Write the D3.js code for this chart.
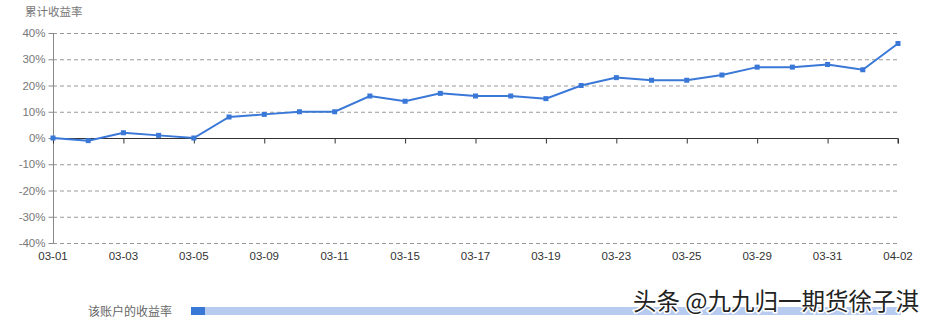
<!DOCTYPE html>
<html><head><meta charset="utf-8">
<script src="https://cdn.jsdelivr.net/npm/d3@7"></script>
<style>body{margin:0;background:#fff}svg{display:block}</style>
</head><body>
<script>
const dates = ["03-01","03-02","03-03","03-04","03-05","03-08","03-09","03-10","03-11","03-12","03-15","03-16","03-17","03-18","03-19","03-22","03-23","03-24","03-25","03-26","03-29","03-30","03-31","04-01","04-02"];
const returns = [0,-1,2,1,0,8,9,10,10,16,14,17,16,16,15,20,23,22,22,24,27,27,28,26,36];
const yTicks = [40,30,20,10,0,-10,-20,-30,-40];
const yTitle = "累计收益率";
const legendLabel = "该账户的收益率";
const watermark = "头条 @九九归一期货徐子淇";

const W = 930, H = 328;
const font = "'Liberation Sans', Arial, 'Noto Sans CJK SC', sans-serif";
const svg = d3.select("body").append("svg").attr("width", W).attr("height", H).style("font-family", font);

const x = d3.scalePoint().domain(dates).range([53, 898]);
const y = d3.scaleLinear().domain([-40, 40]).range([243, 33]);

// grid
svg.append("g").selectAll("line").data(yTicks.filter(d => d !== 0)).join("line")
  .attr("x1", 53).attr("x2", 898).attr("y1", d => y(d) + 0.5).attr("y2", d => y(d) + 0.5)
  .attr("stroke", "#999").attr("stroke-dasharray", "4,3");

// y axis
const ya = svg.append("g").attr("transform", "translate(53.5,0)")
  .call(d3.axisLeft(y).tickValues(yTicks).tickSize(5).tickPadding(3).tickFormat(d => d + "%"));
ya.select(".domain").attr("stroke", "#888").attr("d", `M0,${y(40)}V${y(-40)}`);
ya.selectAll(".tick line").attr("stroke", "#888");
ya.selectAll("text").attr("fill", "#777").style("font-size", "11.5px").style("font-family", font);

// zero axis with ticks
const xTickVals = dates.filter((d, i) => i % 2 === 0);
const xa = svg.append("g").attr("transform", `translate(0,${y(0) + 0.5})`)
  .call(d3.axisBottom(x).tickValues(xTickVals).tickSize(5).tickFormat(""));
xa.select(".domain").attr("stroke", "#333").attr("d", `M53,0H898V5`);
xa.selectAll(".tick line").attr("stroke", "#333");

// x labels
svg.append("g").selectAll("text").data(xTickVals).join("text")
  .attr("x", d => x(d)).attr("y", 260).attr("text-anchor", "middle")
  .attr("fill", "#333").style("font-size", "11.5px").text(d => d);

// title
svg.append("text").attr("x", 25).attr("y", 16).attr("fill", "#777").style("font-size", "11.5px").text(yTitle);

// line
const color = "#3a78d8";
svg.append("path").datum(returns.map((v, i) => [dates[i], v]))
  .attr("fill", "none").attr("stroke", color).attr("stroke-width", 2)
  .attr("d", d3.line().x(d => x(d[0])).y(d => y(d[1])));
svg.append("g").selectAll("rect").data(returns).join("rect")
  .attr("x", (d, i) => x(dates[i]) - 2.5).attr("y", d => y(d) - 2.5)
  .attr("width", 5).attr("height", 5).attr("fill", color);

// legend
svg.append("text").attr("x", 88).attr("y", 316).attr("fill", "#666").style("font-size", "12px").text(legendLabel);
svg.append("rect").attr("x", 191).attr("y", 307).attr("width", 710).attr("height", 8).attr("fill", "#b6cbef");
svg.append("rect").attr("x", 191).attr("y", 307).attr("width", 14).attr("height", 8).attr("fill", color);

// watermark
svg.append("text").attr("x", 633).attr("y", 310).attr("fill", "#222")
  .attr("stroke", "#fff").attr("stroke-width", 3).attr("paint-order", "stroke")
  .style("font-size", "23.5px").style("font-family", "'Noto Sans CJK SC', sans-serif").text(watermark);
</script>
</body></html>
